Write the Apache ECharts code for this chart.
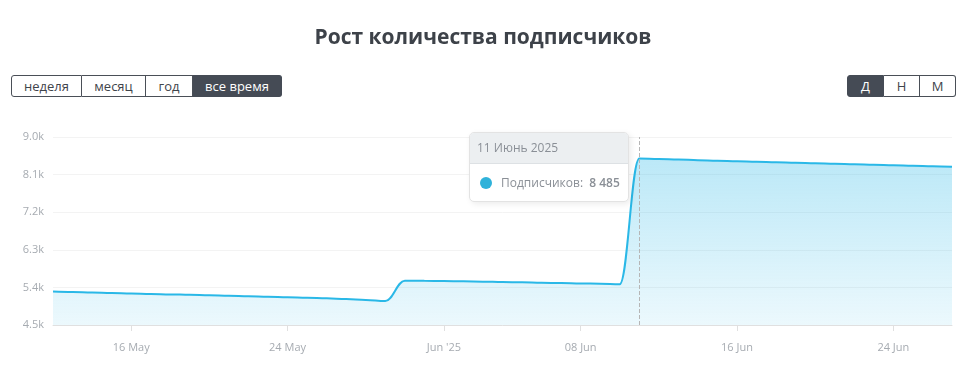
<!DOCTYPE html>
<html>
<head>
<meta charset="utf-8">
<script src="https://cdn.jsdelivr.net/npm/echarts@6/dist/echarts.min.js"></script>
<style>
  html, body { margin: 0; padding: 0; background: #fff; }
  #wrap { position: relative; width: 966px; height: 378px; }
  #chart { width: 966px; height: 378px; }
  .btns { position: absolute; top: 75px; display: flex; font-family: "Open Sans", sans-serif; font-size: 13px; }
  .btns div { height: 20px; line-height: 20px; text-align: center; border: 1px solid #4a4f57; border-left: none; color: #3f444b; background: #fff; box-sizing: content-box; }
  .btns div:first-child { border-left: 1px solid #4a4f57; border-radius: 3px 0 0 3px; }
  .btns div:last-child { border-radius: 0 3px 3px 0; }
  .btns div.on { background: #454b55; color: #fff; border-color: #454b55; }
</style>
</head>
<body>
<div id="wrap">
  <div id="chart"></div>
  <div class="btns" style="left:11px">
    <div style="width:69px">неделя</div>
    <div style="width:63px">месяц</div>
    <div style="width:46px">год</div>
    <div class="on" style="width:88px">все время</div>
  </div>
  <div class="btns" style="left:847px">
    <div class="on" style="width:35px">Д</div>
    <div style="width:35px">Н</div>
    <div style="width:35px">М</div>
  </div>
</div>
<script>
// дни: 12 мая - 27 июня 2025
var days = [
  '2025-05-12', '2025-05-13', '2025-05-14', '2025-05-15', '2025-05-16', '2025-05-17', '2025-05-18',
  '2025-05-19', '2025-05-20', '2025-05-21', '2025-05-22', '2025-05-23', '2025-05-24', '2025-05-25',
  '2025-05-26', '2025-05-27', '2025-05-28', '2025-05-29', '2025-05-30', '2025-05-31',
  '2025-06-01', '2025-06-02', '2025-06-03', '2025-06-04', '2025-06-05', '2025-06-06', '2025-06-07',
  '2025-06-08', '2025-06-09', '2025-06-10', '2025-06-11', '2025-06-12', '2025-06-13', '2025-06-14',
  '2025-06-15', '2025-06-16', '2025-06-17', '2025-06-18', '2025-06-19', '2025-06-20', '2025-06-21',
  '2025-06-22', '2025-06-23', '2025-06-24', '2025-06-25', '2025-06-26', '2025-06-27'
];
var subscribers = [
  5300, 5290, 5278, 5266, 5255, 5244, 5233,
  5222, 5211, 5200, 5189, 5178, 5167, 5155,
  5140, 5120, 5100, 5072, 5560, 5558,
  5552, 5545, 5538, 5530, 5521, 5512, 5503,
  5495, 5488, 5478, 8485, 8472, 8459, 8446,
  8433, 8420, 8408, 8396, 8384, 8372, 8360,
  8348, 8336, 8324, 8312, 8300, 8288
];
var tickLabels = {
  '2025-05-16': '16 May',
  '2025-05-24': '24 May',
  '2025-06-01': "Jun '25",
  '2025-06-08': '08 Jun',
  '2025-06-16': '16 Jun',
  '2025-06-24': '24 Jun'
};
var monthsRu = ['Январь', 'Февраль', 'Март', 'Апрель', 'Май', 'Июнь', 'Июль', 'Август', 'Сентябрь', 'Октябрь', 'Ноябрь', 'Декабрь'];
var tipIndex = 30;

function showTick(i) { return !!tickLabels[days[i]]; }

var chart = echarts.init(document.getElementById('chart'));
var option = {
    animation: false,
    title: {
        text: 'Рост количества подписчиков',
        left: 'center',
        top: 23,
        textStyle: { fontFamily: 'Open Sans', fontSize: 21, fontWeight: 'bold', color: '#3d4249' }
    },
    grid: { left: 53, right: 14, top: 137, bottom: 53 },
    tooltip: {
        trigger: 'axis',
        triggerOn: 'none',
        alwaysShowContent: true,
        position: [469, 132],
        padding: 0,
        borderColor: '#e3e3e3',
        borderWidth: 1,
        borderRadius: 5,
        backgroundColor: '#fff',
        extraCssText: 'box-shadow: 2px 2px 6px rgba(0,0,0,0.08); overflow:hidden;',
        axisPointer: {
            type: 'line',
            lineStyle: { color: '#b6b6b6', type: 'dashed', width: 1 }
        },
        formatter: function (params) {
            var p = params[0];
            var d = p.axisValue.split('-');
            var head = parseInt(d[2], 10) + ' ' + monthsRu[parseInt(d[1], 10) - 1] + ' ' + d[0];
            var v = String(p.value).replace(/\B(?=(\d{3})+(?!\d))/g, ' ');
            return '<div style="font-family:Open Sans;font-size:12px;color:#8a8f96;width:158px">' +
                '<div style="background:#eceff1;border-bottom:1px solid #dde1e4;height:30px;line-height:30px;padding-left:7px">' + head + '</div>' +
                '<div style="height:37px;line-height:37px;padding-left:10px;white-space:nowrap">' +
                '<span style="display:inline-block;width:12px;height:12px;border-radius:6px;background:#2fb2da;vertical-align:-2px;margin-right:9px"></span>' +
                'Подписчиков:&nbsp; <b style="font-weight:600">' + v + '</b></div></div>';
        }
    },
    xAxis: {
        type: 'category',
        boundaryGap: false,
        data: days,
        axisLine: { lineStyle: { color: '#e0e0e0' } },
        axisTick: { length: 6, interval: showTick, lineStyle: { color: '#e0e0e0' } },
        axisLabel: {
            interval: showTick,
            margin: 17,
            color: '#a6abb1',
            fontSize: 11,
            fontFamily: 'Open Sans',
            formatter: function (v) { return tickLabels[v] || ''; }
        },
        splitLine: { show: false }
    },
    yAxis: {
        type: 'value',
        min: 4500,
        max: 9000,
        interval: 900,
        axisLine: { show: false },
        axisTick: { show: false },
        axisLabel: {
            margin: 9,
            color: '#a6abb1',
            fontSize: 11,
            fontFamily: 'Open Sans',
            formatter: function (v) { return (v / 1000).toFixed(1) + 'k'; }
        },
        splitLine: { lineStyle: { color: '#f3f3f3' } }
    },
    series: [{
        name: 'Подписчиков',
        type: 'line',
        data: subscribers,
        symbol: 'none',
        smooth: 0.4,
        smoothMonotone: 'x',
        lineStyle: { color: '#27a8d2', width: 2 },
        itemStyle: { color: '#2fb2da' },
        areaStyle: {
            color: new echarts.graphic.LinearGradient(0, 0, 0, 1, [
                { offset: 0, color: 'rgba(40,168,210,0.46)' },
                { offset: 1, color: 'rgba(40,168,210,0.13)' }
            ])
        }
    }]
};
chart.setOption(option);
chart.dispatchAction({ type: 'showTip', seriesIndex: 0, dataIndex: tipIndex });
</script>
</body>
</html>
